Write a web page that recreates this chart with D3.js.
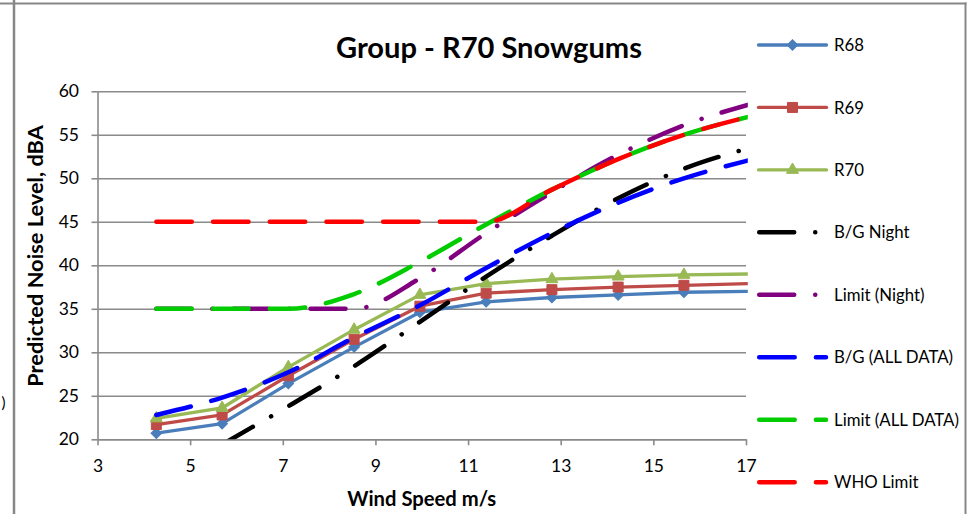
<!DOCTYPE html>
<html>
<head>
<meta charset="utf-8">
<script src="https://cdn.jsdelivr.net/npm/d3@7"></script>
<style>
  body { margin: 0; background: #ffffff; }
  svg { display: block; }
  text { font-family: Lato, "Open Sans", sans-serif; fill: #000; }
</style>
</head>
<body>
<script>
// ---------------- data ----------------
const windSpeed  = [4.27, 5.69, 7.12, 8.54, 9.96, 11.39, 12.81, 14.24, 15.66, 17.08];
const r68        = [20.7, 21.8, 26.4, 30.6, 34.6, 35.8, 36.3, 36.6, 36.9, 37.0];
const r69        = [21.7, 22.8, 27.3, 31.5, 35.3, 36.8, 37.2, 37.5, 37.7, 37.9];
const r70        = [22.4, 23.6, 28.3, 32.6, 36.6, 37.9, 38.4, 38.7, 38.9, 39.0];
const bgNight    = [14.9, 19.4, 23.8, 28.4, 33.5, 38.7, 43.4, 47.7, 51.1, 53.5];
const limitNight = [35.0, 35.0, 35.0, 35.0, 38.5, 43.7, 48.4, 52.7, 56.1, 58.5];
const bgAll      = [22.8, 24.8, 27.7, 31.7, 35.4, 39.7, 43.7, 47.2, 50.0, 52.1];
const limitAll   = [35.0, 35.0, 35.0, 36.7, 40.4, 44.7, 48.7, 52.2, 55.0, 57.1];
const whoLimit   = [45.0, 45.0, 45.0, 45.0, 45.0, 45.0, 48.7, 52.2, 55.0, 57.1];

const seriesNames = ["R68", "R69", "R70", "B/G Night", "Limit (Night)",
                     "B/G (ALL DATA)", "Limit (ALL DATA)", "WHO Limit"];
const xTicks = [3, 5, 7, 9, 11, 13, 15, 17];
const yTicks = [20, 25, 30, 35, 40, 45, 50, 55, 60];
const chartTitle = "Group - R70 Snowgums";
const xTitle = "Wind Speed m/s";
const yTitle = "Predicted Noise Level, dBA";

// ---------------- styling ----------------
const W = 967, H = 514;
const gridColor = "#8a8a8a";
const lgDash = "35.5,21.2";
const lgDashDot = "35,21,0.1,21";

const seriesValues = [r68, r69, r70, bgNight, limitNight, bgAll, limitAll, whoLimit];
const seriesStyle = [
  {color: "#4A7EBB", width: 3.3, dash: null,       marker: "diamond",  curve: d3.curveLinear},
  {color: "#BE4B48", width: 3.3, dash: null,       marker: "square",   curve: d3.curveLinear},
  {color: "#98B954", width: 3.3, dash: null,       marker: "triangle", curve: d3.curveLinear},
  {color: "#000000", width: 4.5, dash: lgDashDot,  marker: null,       curve: d3.curveMonotoneX},
  {color: "#800080", width: 4.5, dash: lgDashDot,  marker: null,       curve: d3.curveMonotoneX},
  {color: "#0000FF", width: 4.5, dash: lgDash,     marker: null,       curve: d3.curveMonotoneX},
  {color: "#00CC00", width: 4.5, dash: lgDash,     marker: null,       curve: d3.curveMonotoneX},
  {color: "#FF0000", width: 4.5, dash: lgDash,     marker: null,       curve: d3.curveMonotoneX}
];

const svg = d3.select("body").append("svg").attr("width", W).attr("height", H);

// page frame lines
svg.append("line").attr("x1", 0).attr("x2", 966.5).attr("y1", 3.5).attr("y2", 3.5)
  .attr("stroke", "#878787").attr("stroke-width", 2);
svg.append("line").attr("x1", 14).attr("x2", 14).attr("y1", 0).attr("y2", H)
  .attr("stroke", "#878787").attr("stroke-width", 2.5);
svg.append("line").attr("x1", 965.5).attr("x2", 965.5).attr("y1", 2.5).attr("y2", H)
  .attr("stroke", "#878787").attr("stroke-width", 2);
// small bracket from neighbouring content at the left edge
svg.append("text").attr("x", 1.5).attr("y", 408)
  .attr("font-size", 15).text(")");

// ---------------- scales ----------------
const x = d3.scaleLinear().domain([3, 17]).range([97.5, 746]);
const y = d3.scaleLinear().domain([20, 60]).range([439.3, 91.3]);

// gridlines
const grid = svg.append("g").attr("transform", `translate(${x.range()[0]},0)`)
  .call(d3.axisLeft(y).tickValues(yTicks).tickSize(-(x.range()[1] - x.range()[0])).tickFormat(""));
grid.select(".domain").remove();
grid.selectAll("line").attr("stroke", gridColor).attr("stroke-width", 1.6);

// y axis
const yAxis = svg.append("g").attr("transform", `translate(${x.range()[0]},0)`)
  .call(d3.axisLeft(y).tickValues(yTicks).tickSize(6).tickSizeOuter(0).tickPadding(12.5));
yAxis.select(".domain").attr("stroke", gridColor).attr("stroke-width", 1.6);
yAxis.selectAll(".tick line").attr("stroke", gridColor).attr("stroke-width", 1.6);
yAxis.selectAll(".tick text").attr("font-family", "Lato").attr("font-size", 17.5).attr("fill", "#000");

// x axis
const xAxis = svg.append("g").attr("transform", `translate(0,${y.range()[0]})`)
  .call(d3.axisBottom(x).tickValues(xTicks).tickSize(6).tickSizeOuter(0));
xAxis.select(".domain").attr("stroke", gridColor).attr("stroke-width", 1.6);
xAxis.selectAll(".tick line").attr("stroke", gridColor).attr("stroke-width", 1.6);
xAxis.selectAll(".tick text").attr("font-family", "Lato").attr("font-size", 17.5)
  .attr("fill", "#000").attr("dy", 0).attr("y", 33);

// ---------------- series ----------------
svg.append("clipPath").attr("id", "plotClip").append("rect")
  .attr("x", x.range()[0]).attr("y", 80)
  .attr("width", 747.8 - x.range()[0]).attr("height", y.range()[0] - 80);

const plot = svg.append("g").attr("clip-path", "url(#plotClip)");

function markerPath(type, size) {
  if (type === "diamond") return d3.symbol().type(d3.symbolSquare).size(size)();
  if (type === "square") return d3.symbol().type(d3.symbolSquare).size(size)();
  return d3.symbol().type(d3.symbolTriangle).size(size)();
}
const markerSize = {diamond: 56, square: 100, triangle: 62};

seriesValues.forEach((vals, i) => {
  const st = seriesStyle[i];
  const pts = windSpeed.map((w, k) => [w, vals[k]]);
  const line = d3.line().x(d => x(d[0])).y(d => y(d[1])).curve(st.curve);
  plot.append("path").datum(pts)
    .attr("d", line)
    .attr("fill", "none")
    .attr("stroke", st.color)
    .attr("stroke-width", st.width)
    .attr("stroke-linecap", "round")
    .attr("stroke-linejoin", "round")
    .attr("stroke-dasharray", st.dash);
  if (st.marker) {
    plot.selectAll(null).data(pts.filter(d => d[0] <= x.domain()[1]))
      .join("path")
      .attr("d", markerPath(st.marker, markerSize[st.marker]))
      .attr("transform", d => `translate(${x(d[0])},${y(d[1])})` + (st.marker === "diamond" ? " rotate(45)" : ""))
      .attr("fill", st.color)
      .attr("stroke", st.color)
      .attr("stroke-width", 1);
  }
});

// ---------------- titles ----------------
function fitWidth(sel, target) {
  const w = sel.node().getComputedTextLength();
  const fs = parseFloat(sel.attr("font-size"));
  sel.attr("font-size", fs * target / w);
}

const title = svg.append("text").attr("x", 489).attr("y", 58.3).attr("text-anchor", "middle")
  .attr("font-weight", "bold").attr("font-size", 25).text(chartTitle);
fitWidth(title, 306);

const xt = svg.append("text").attr("x", (x.range()[0] + x.range()[1]) / 2).attr("y", 506)
  .attr("text-anchor", "middle").attr("font-weight", "bold").attr("font-size", 17).text(xTitle);
fitWidth(xt, 149);

const yt = svg.append("text").attr("transform", "translate(42.5,256) rotate(-90)")
  .attr("text-anchor", "middle").attr("font-weight", "bold").attr("font-size", 17).text(yTitle);
fitWidth(yt, 262);

// ---------------- legend ----------------
const legend = svg.append("g");
const legY0 = 45, legStep = 62.45;
const legTexts = [];
seriesNames.forEach((name, i) => {
  const st = seriesStyle[i];
  const cy = legY0 + i * legStep;
  const g = legend.append("g").attr("transform", `translate(0,${cy})`);
  if (st.dash) {
    g.append("line").attr("x1", 759.2).attr("x2", 826).attr("y1", 0).attr("y2", 0)
      .attr("stroke", st.color).attr("stroke-width", st.width)
      .attr("stroke-linecap", "round").attr("stroke-dasharray", st.dash);
  } else {
    g.append("line").attr("x1", 758.5).attr("x2", 826.5).attr("y1", 0).attr("y2", 0)
      .attr("stroke", st.color).attr("stroke-width", st.width).attr("stroke-linecap", "round");
    g.append("path").attr("d", markerPath(st.marker, markerSize[st.marker]))
      .attr("transform", `translate(792.5,0)` + (st.marker === "diamond" ? " rotate(45)" : ""))
      .attr("fill", st.color).attr("stroke", st.color).attr("stroke-width", 1);
  }
  const t = g.append("text").attr("x", 834).attr("y", 0).attr("dy", "0.36em")
    .attr("font-size", 17).text(name);
  legTexts.push(t);
});
// size legend text so that the longest label matches the reference width
const refIdx = seriesNames.indexOf("Limit (ALL DATA)");
const refW = legTexts[refIdx].node().getComputedTextLength();
const legFont = 17 * 125 / refW;
legTexts.forEach(t => t.attr("font-size", legFont));
</script>
</body>
</html>
